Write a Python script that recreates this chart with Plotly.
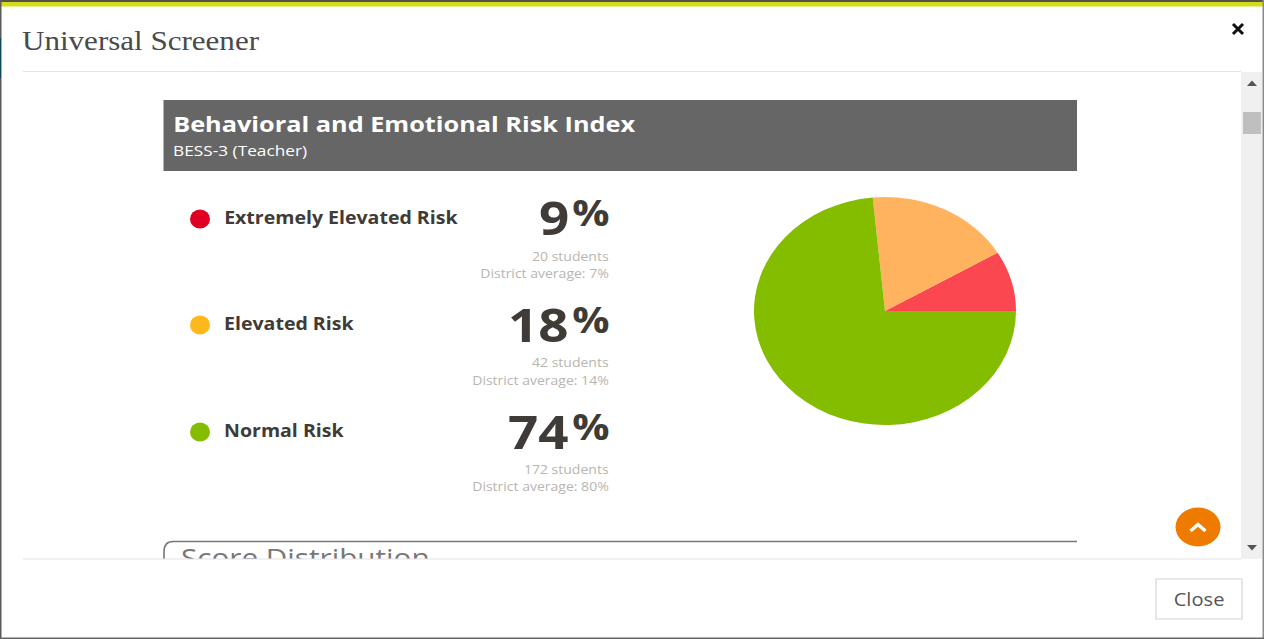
import plotly.graph_objects as go

# Risk summary data
risk_levels = ["Extremely Elevated Risk", "Elevated Risk", "Normal Risk"]
student_counts = [20, 42, 172]
percent_labels = ["9", "18", "74"]
district_averages = ["7%", "14%", "80%"]

slice_colors = ["#FA4750", "#FFB35F", "#84BD00"]
dot_colors = ["#DF0024", "#FFB81C", "#84BD00"]

WIDTH, HEIGHT = 1264, 639
SANS = "Open Sans"
INK = "#3F3B37"
MUTED = "#B9B5B1"

# Vertical placement of the three summary rows
label_y = [217, 323, 430]
dot_y = [219, 325, 432]
number_y = [217, 324, 431]
percent_y = [212, 319, 426]
count_y = [256, 362, 469]
average_y = [273, 380, 486]


def rect(x0, y0, x1, y1, fill, line=None, width=0, layer="below"):
    return dict(type="rect", x0=x0, y0=y0, x1=x1, y1=y1, xref="x", yref="y",
                fillcolor=fill, line=dict(color=line or fill, width=width), layer=layer)


def path(d, color, width=0, fill=None, layer="above"):
    return dict(type="path", path=d, xref="x", yref="y", layer=layer,
                fillcolor=fill or "rgba(0,0,0,0)",
                line=dict(color=color, width=width))


def text(x, y, s, size, color=INK, anchor="left", family=SANS, bold=False):
    return dict(x=x, y=y, xref="x", yref="y", text=f"<b>{s}</b>" if bold else s,
                showarrow=False, xanchor=anchor, yanchor="middle",
                font=dict(family=family, size=size, color=color))


fig = go.Figure()

# Section heading that runs under the modal footer
fig.add_trace(go.Scatter(
    x=[181], y=[561], mode="text", text=["Score Distribution"],
    textposition="middle right", hoverinfo="skip", showlegend=False,
    textfont=dict(family=SANS, size=25.8, color="#777777"),
))

# Share of students per risk level: first slice opens at 3 o'clock, running counterclockwise
first_slice_degrees = 360 * student_counts[0] / sum(student_counts)
fig.add_trace(go.Pie(
    labels=risk_levels, values=student_counts, sort=False,
    rotation=90 - first_slice_degrees,
    direction="counterclockwise", textinfo="none", showlegend=False,
    marker=dict(colors=slice_colors, line=dict(width=0)),
    domain=dict(x=[0.5, 0.9], y=[0.3, 0.9]),
))

shapes = [
    # Modal frame
    rect(0, 0, WIDTH, 2, "#55534A"),
    rect(0, 2, WIDTH, 6.5, "#D3DC1B"),
    rect(0, 0, 1.5, HEIGHT, "#5A5A5A"),
    rect(0, 38, 1, 78, "#0E4A5A"),
    rect(1262.5, 0, WIDTH, HEIGHT, "#8A8A8A"),
    rect(0, 637.5, WIDTH, HEIGHT, "#666666"),
    rect(23, 71, 1241, 72, "#E4E4E4"),
    # Banner
    rect(163.5, 100, 1077, 171, "#666666"),
    # Scrollbar
    rect(1241, 72, 1262, 559, "#F0F0F0"),
    rect(1243, 112, 1261, 134, "#BFBFBF"),
    path("M1247,86 L1257,86 L1252,80.5 Z", "#555555", fill="#555555", layer="below"),
    path("M1247,545 L1257,545 L1252,550.5 Z", "#555555", fill="#555555", layer="below"),
    # Outlined panel, cut off by the footer
    path("M1077,541.5 L173,541.5 Q164,541.5 164,552 L164,559", "#777777", width=1.6, layer="below"),
    # Footer covers the panel's overflow
    rect(2, 559, 1262, 637, "#FFFFFF", layer="above"),
    rect(23, 558.5, 1241, 559.5, "#E4E4E4", layer="above"),
    # Close button
    rect(1156, 579, 1242, 619, "#FFFFFF", line="#D6D6D6", width=1.2, layer="above"),
    # Close cross
    path("M1233,24 L1243,34 M1243,24 L1233,34", "#111111", width=3),
    # Back-to-top button
    dict(type="circle", x0=1175.5, x1=1220.5, y0=507.5, y1=546.5, xref="x", yref="y",
         fillcolor="#EE7B00", line=dict(width=0), layer="above"),
    path("M1190.5,531 L1198,524.5 L1205.5,531", "#FFFFFF", width=3.4),
]

# Legend dots
for y, color in zip(dot_y, dot_colors):
    shapes.append(dict(type="circle", x0=190, x1=210, y0=y - 9.5, y1=y + 9.5,
                       xref="x", yref="y", fillcolor=color, line=dict(width=0),
                       layer="below"))

annotations = [
    text(20, 41, "Universal Screener", 27, "#4A4A4A", family="Liberation Serif"),
    text(171, 123, "Behavioral and Emotional Risk Index", 22, "#FFFFFF", bold=True),
    text(171, 150, "BESS-3 (Teacher)", 15, "#FFFFFF"),
    text(1199, 599, "Close", 17.5, "#555555", anchor="center"),
]

for i, name in enumerate(risk_levels):
    annotations += [
        text(222, label_y[i], name, 17, INK, bold=True),
        text(571, number_y[i], percent_labels[i], 46, INK, anchor="right", bold=True),
        text(611, percent_y[i], "%", 36, INK, anchor="right", bold=True),
        text(611, count_y[i], f"{student_counts[i]} students", 12.2, MUTED, anchor="right"),
        text(611, average_y[i], f"District average: {district_averages[i]}", 12.2, MUTED, anchor="right"),
    ]

fig.update_layout(
    width=WIDTH, height=HEIGHT, autosize=False,
    margin=dict(l=0, r=0, t=0, b=0),
    paper_bgcolor="#FFFFFF", plot_bgcolor="#FFFFFF",
    xaxis=dict(range=[0, WIDTH], visible=False, fixedrange=True, domain=[0, 1]),
    yaxis=dict(range=[HEIGHT, 0], visible=False, fixedrange=True, domain=[0, 1]),
    shapes=shapes, annotations=annotations,
)

# The page is laid out about 1.15 times wider than tall: widen the pie and the type to suit
widen = """
var gd = document.querySelector('.plotly-graph-div');
var SX = 1.15;
var g = gd.querySelector('.pielayer .trace');
if (g) {
  var box = g.getBBox();
  var cx = box.x + box.width / 2, cy = box.y + box.height / 2;
  g.setAttribute('transform', 'translate(885,311) scale(' + (262 / box.width) + ',' +
    (228 / box.height) + ') translate(' + (-cx) + ',' + (-cy) + ')');
}
function widenAbout(el, anchor) {
  var b = el.getBBox();
  var x0 = anchor === 'right' ? b.x + b.width : anchor === 'center' ? b.x + b.width / 2 : b.x;
  el.setAttribute('transform', 'translate(' + x0 + ',0) scale(' + SX + ',1) translate(' + (-x0) + ',0)');
}
gd.querySelectorAll('.annotation').forEach(function (a) {
  var idx = +a.getAttribute('data-index');
  widenAbout(a.querySelector('text'), gd.layout.annotations[idx].xanchor);
});
gd.querySelectorAll('.scatterlayer .textpoint text').forEach(function (t) {
  widenAbout(t, 'left');
});
"""

fig.write_html("out.html", post_script=widen, config=dict(displayModeBar=False))
